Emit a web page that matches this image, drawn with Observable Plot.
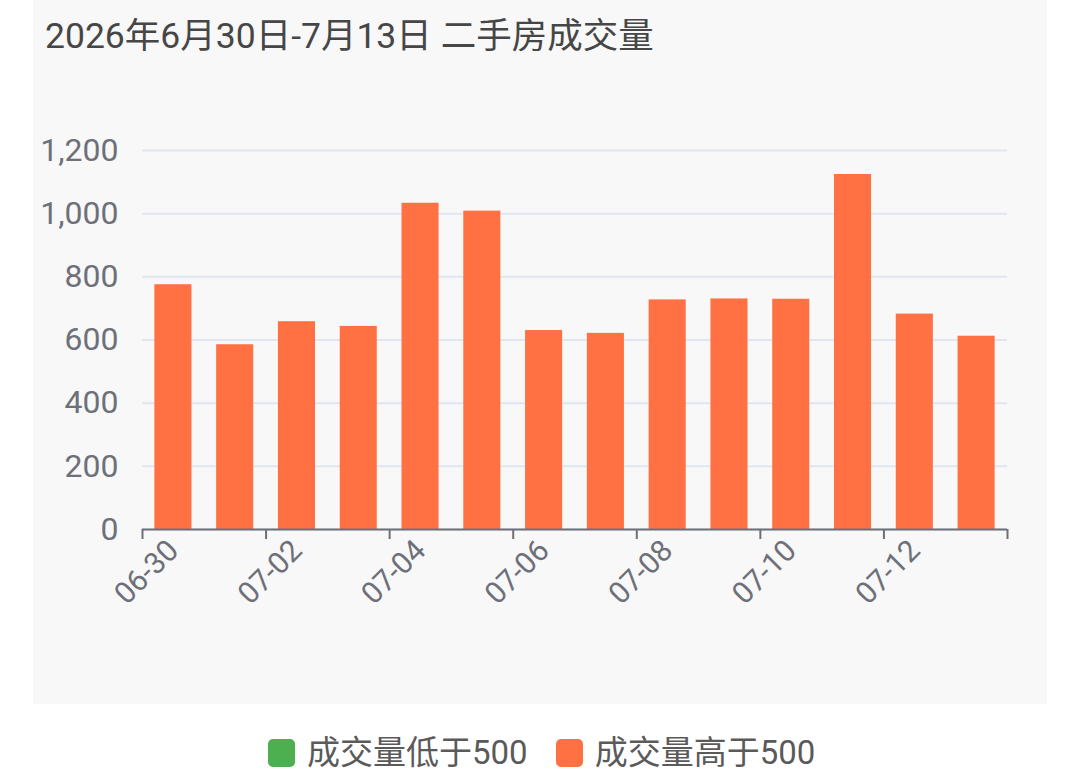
<!DOCTYPE html>
<html><head><meta charset="utf-8">
<script src="https://cdn.jsdelivr.net/npm/d3@7"></script>
<script src="https://cdn.jsdelivr.net/npm/@observablehq/plot@0.6"></script>
<style>
body{margin:0;background:#fff;font-family:Roboto,"Noto Sans CJK SC",sans-serif;width:1080px;height:783px;position:relative;overflow:hidden;}
#panel{position:absolute;left:33px;top:0;width:1014px;height:704px;background:#f8f8f8;}
#title{position:absolute;left:12px;top:7px;font-size:35.5px;color:#464646;white-space:nowrap;}
#chart{position:absolute;left:0;top:70px;}
#legend{position:absolute;top:734px;left:268px;display:flex;align-items:center;font-size:33px;color:#5a5a5a;white-space:nowrap;}
.sw{width:27px;height:28px;border-radius:5px;display:inline-block;}
.lt{margin-left:12px;margin-right:28px;line-height:38px;}
</style>
</head><body>
<div id="panel"><div id="title"></div><div id="chart"></div></div>
<div id="legend"></div>
<script>
const titleText = "2026年6月30日-7月13日 二手房成交量";
const dates = ["06-30","07-01","07-02","07-03","07-04","07-05","07-06","07-07","07-08","07-09","07-10","07-11","07-12","07-13"];
const volumes = [775,585,658,643,1033,1008,630,621,727,730,729,1124,682,612];
const yTicks = [0,200,400,600,800,1000,1200];
const xTickLabels = ["06-30","07-02","07-04","07-06","07-08","07-10","07-12"];
const legendLabels = ["成交量低于500","成交量高于500"];
const legendColors = ["#4caf50","#ff7143"];
const threshold = 500;

document.getElementById("title").textContent = titleText;

const data = dates.map((d,i)=>({date:d, value:volumes[i], cat: volumes[i] < threshold ? legendLabels[0] : legendLabels[1]}));

const W = 1014, H = 634, ML = 109, MR = 40, MT = 80, MB = 175;
const step = (W - ML - MR) / dates.length;
const axisColor = "#6e7079";

const chart = Plot.plot({
  width: W, height: H, marginLeft: ML, marginRight: MR, marginTop: MT, marginBottom: MB,
  style: {background: "transparent", fontFamily: 'Roboto,"Noto Sans CJK SC",sans-serif', overflow: "visible"},
  x: {domain: dates, paddingInner: 0.4, paddingOuter: 0.2, round: false, label: null},
  y: {domain: [0, 1200], label: null},
  color: {domain: legendLabels, range: legendColors},
  marks: [
    Plot.gridY(yTicks, {stroke: "#e0e6f1", strokeOpacity: 1, strokeWidth: 2}),
    Plot.axisY(yTicks, {tickSize: 0, tickPadding: 24, tickFormat: d3.format(","), fontSize: 32, fill: axisColor, label: null}),
    Plot.barY(data, {x: "date", y: "value", fill: "cat"}),
    Plot.ruleY([0], {stroke: axisColor, strokeWidth: 2}),
    Plot.axisX(xTickLabels, {tickSize: 0, tickPadding: 16, tickRotate: -45, fontSize: 30, fill: axisColor, label: null}),
    Plot.axisX(xTickLabels, {tickSize: 10, stroke: axisColor, strokeWidth: 2, strokeOpacity: 1, dx: -step/2, tickFormat: () => "", label: null}),
    Plot.axisX([dates[dates.length-1]], {tickSize: 10, stroke: axisColor, strokeWidth: 2, strokeOpacity: 1, dx: step/2, tickFormat: () => "", label: null})
  ]
});
document.getElementById("chart").appendChild(chart);

const legend = document.getElementById("legend");
legendLabels.forEach((l,i)=>{
  const s = document.createElement("span"); s.className="sw"; s.style.background = legendColors[i];
  const t = document.createElement("span"); t.className="lt"; t.textContent = l;
  legend.appendChild(s); legend.appendChild(t);
});
</script>
</body></html>
